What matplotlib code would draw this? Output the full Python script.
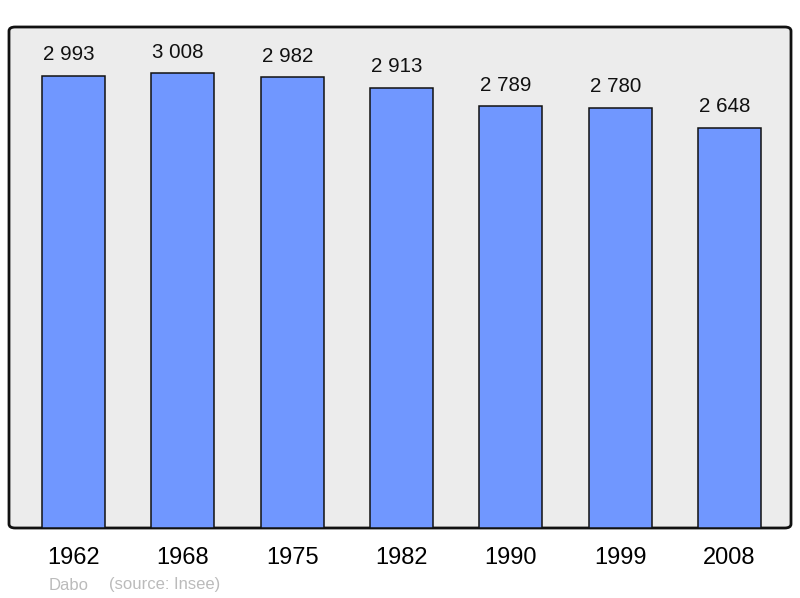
import matplotlib
matplotlib.use("Agg")
import matplotlib.pyplot as plt
from matplotlib.patches import FancyBboxPatch

years = ["1962", "1968", "1975", "1982", "1990", "1999", "2008"]
population = [2993, 3008, 2982, 2913, 2789, 2780, 2648]
value_labels = ["2 993", "3 008", "2 982", "2 913", "2 789", "2 780", "2 648"]

plt.rcParams['font.family'] = ['Liberation Sans', 'DejaVu Sans']

fig = plt.figure(figsize=(8, 5.98), dpi=100)
ax = fig.add_axes([9/800, (598-528)/598, 782/800, 501/598])
ax.set_facecolor('none')
for s in ax.spines.values():
    s.set_visible(False)

frame = FancyBboxPatch((0, 0), 1, 1, boxstyle="round,pad=0,rounding_size=0.008",
                       transform=ax.transAxes, facecolor='#ececec', edgecolor='#111111',
                       linewidth=2, zorder=0, clip_on=False)
ax.add_patch(frame)

x = list(range(len(years)))
ax.bar(x, population, width=0.576, color='#7097ff', edgecolor='#111111', linewidth=1.1, zorder=2)
for xi, v, lab in zip(x, population, value_labels):
    ax.annotate(lab, (xi, v), xytext=(-3.5, 8.4), textcoords='offset points',
                ha='center', va='bottom', fontsize=14.8, color='#111111')

ax.set_xlim(-0.59, 6.5625)
ax.set_ylim(0, 3315)
ax.set_yticks([])
ax.set_xticks(x)
ax.set_xticklabels(years, fontsize=17)
ax.tick_params(axis='x', length=0, pad=13.5)

fig.text(49/800, 1 - 585/598, "Dabo", fontsize=12, color='#bbbbbb', va='center', ha='left')
fig.text(109/800, 1 - 585/598, "(source: Insee)", fontsize=12, color='#bbbbbb', va='center', ha='left')

fig.savefig("out.png", dpi=100, facecolor='white')
